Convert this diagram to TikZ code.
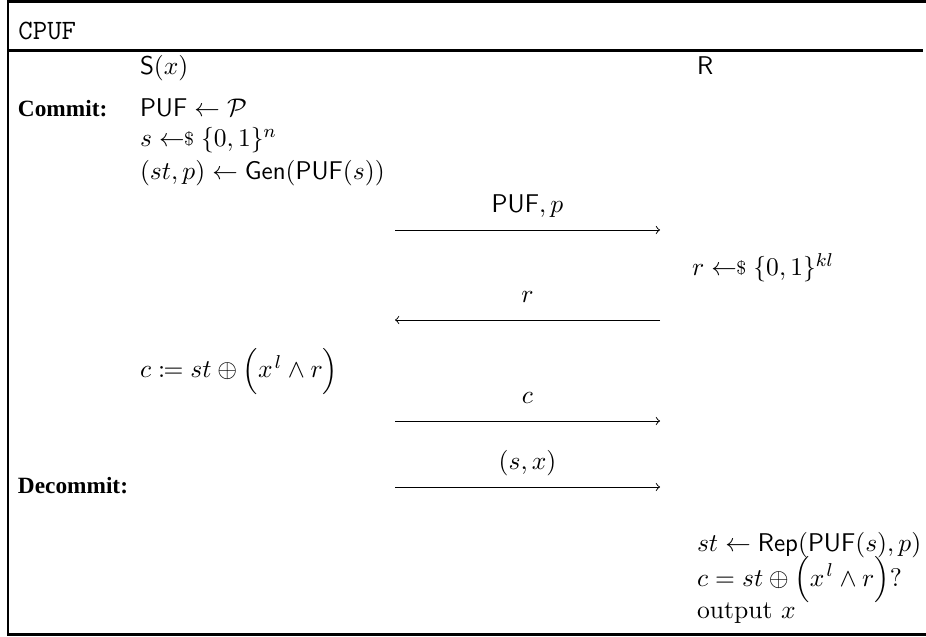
\documentclass[tikz,border=0pt]{standalone}
\usepackage{amsmath,amssymb,mathtools}
\usepackage{fontspec}
\setmainfont{Liberation Serif}
\newfontfamily\lmroman{Latin Modern Roman}
\newcommand{\mysample}{\mathrel{\leftarrow\hspace*{-3.2pt}\raisebox{.6pt}{$\scriptstyle\$$}}}
\newcommand{\mathsz}{\fontsize{11}{13.6}\selectfont}
\begin{document}
\begin{tikzpicture}[x=0.429pt,y=-0.429pt,
  txt/.style={anchor=base west, inner sep=0pt, outer sep=0pt, font=\mathsz},
  kw/.style={anchor=base west, inner sep=0pt, outer sep=0pt, font=\bfseries},
  msg/.style={->, line width=0.4pt},
  lbl/.style={anchor=base, inner sep=0pt, yshift=7.7pt, font=\mathsz},
  rule/.style={line width=1.2pt}]
\useasboundingbox (0,0) rectangle (926,637);
\draw[rule, line join=miter] (926,1.5) -- (8,1.5) -- (8,634.5) -- (926,634.5);
\draw[rule] (8,50.5) -- (923,50.5);
\node[anchor=base west, inner sep=0pt, font=\fontsize{12}{14}\selectfont\ttfamily] (title) at (18,39.5) {CPUF};
\node[txt] (S) at (140,75) {$\mathsf{S}(x)$};
\node[txt] (R) at (697,75) {$\mathsf{R}$};
\node[kw] (commit) at (18,117) {Commit:};
\node[txt] (l1) at (140,117) {$\mathsf{PUF} \leftarrow \mathcal{P}$};
\node[txt] (l2) at (140,147) {$s \mysample \{0,1\}^n$};
\node[txt] (l3) at (140,180) {$(st,p) \leftarrow \mathsf{Gen}(\mathsf{PUF}(s))$};
\coordinate (a1s) at (395,230); \coordinate (a1e) at (660,230);
\draw[msg] (a1s) -- node[lbl] (m1) {$\mathsf{PUF}, p$} (a1e);
\node[txt] (r1) at (692,276) {$r \mysample \{0,1\}^{kl}$};
\coordinate (a2s) at (660,320); \coordinate (a2e) at (395,320);
\draw[msg] (a2s) -- node[lbl] (m2) {$r$} (a2e);
\node[txt] (l4) at (140,378) {$c \coloneqq st \oplus \Bigl(x^{\mkern2mu l} \wedge r\Bigr)$};
\coordinate (a3s) at (395,421); \coordinate (a3e) at (660,421);
\draw[msg] (a3s) -- node[lbl] (m3) {$c$} (a3e);
\node[kw] (decommit) at (18,494) {Decommit:};
\coordinate (a4s) at (395,487); \coordinate (a4e) at (660,487);
\draw[msg] (a4s) -- node[lbl] (m4) {$(s,x)$} (a4e);
\node[txt] (r2) at (697,551) {$st \leftarrow \mathsf{Rep}(\mathsf{PUF}(s),p)$};
\node[txt] (r3) at (697,586) {$c = st \oplus \Bigl(x^{\mkern2mu l} \wedge r\Bigr)?$};
\node[txt] (r4) at (697,618) {\lmroman output\ $x$};
\end{tikzpicture}
\end{document}
